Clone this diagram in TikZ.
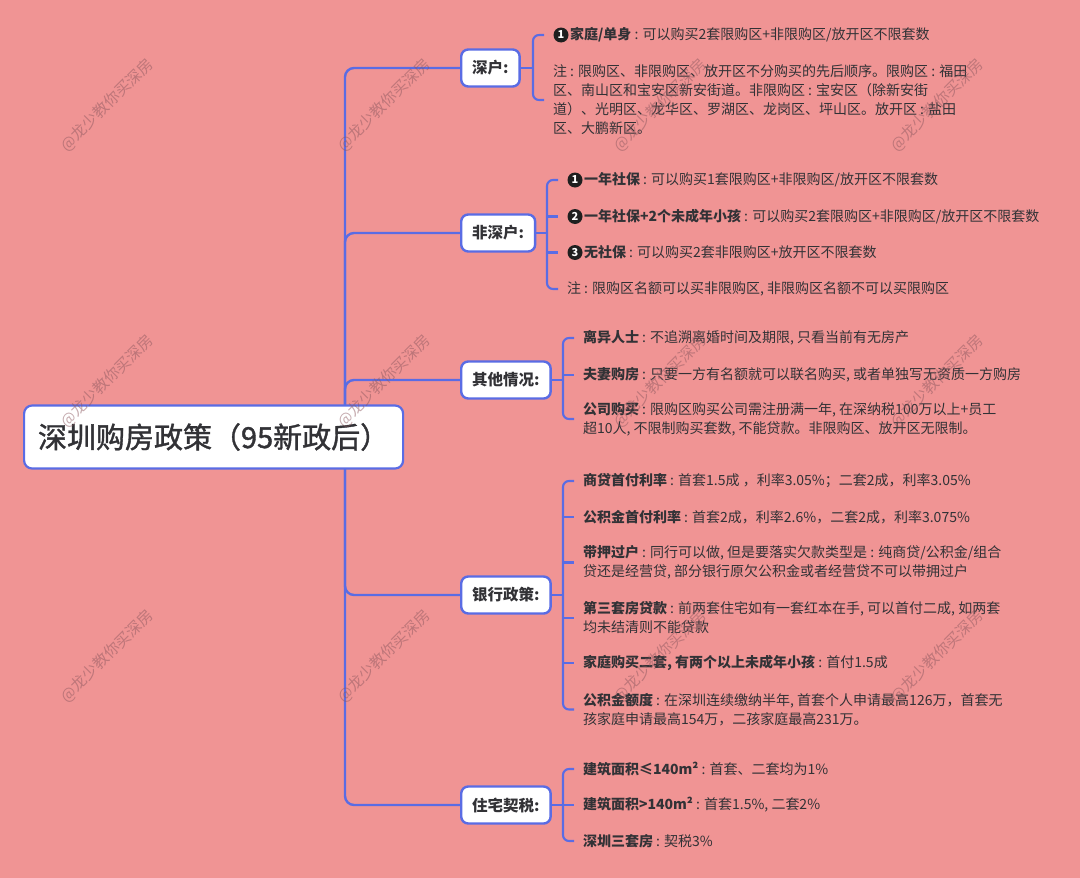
\documentclass[tikz,border=0pt]{standalone}
\usepackage{fontspec}
\setmainfont{Noto Sans CJK SC}
\newfontfamily\rootfont[FakeBold=1.3]{Noto Sans CJK SC}
\definecolor{bgpink}{RGB}{240,148,148}
\definecolor{lineblue}{RGB}{90,108,228}
\definecolor{txt}{RGB}{50,50,54}
\definecolor{wmc}{RGB}{140,88,95}
\tikzset{
  link/.style={draw=lineblue, line width=2.4pt},
  brk/.style={draw=lineblue, line width=2.1pt},
  rootbox/.style={draw=lineblue, line width=2.2pt, fill=white, rounded corners=8pt,
    minimum width=379pt, minimum height=63pt, inner sep=0pt, anchor=west,
    font=\rootfont\fontsize{29}{32}\selectfont, text=txt},
  branch/.style={draw=lineblue, line width=2.4pt, fill=white, rounded corners=7pt,
    minimum height=37pt, inner xsep=11pt, inner ysep=0pt, anchor=west,
    font=\fontsize{15.5}{18}\selectfont\bfseries, text=txt},
  leaf/.style={anchor=west, inner sep=0pt, outer xsep=9pt, outer ysep=0pt, align=left,
    font=\fontsize{14}{19}\selectfont, text=txt},
  numdot/.style={circle, fill=black!88, text=white, inner sep=0pt, minimum size=15pt,
    font=\fontsize{11}{11}\selectfont\bfseries},
  wm/.style={rotate=45, font=\fontsize{15.5}{16}\selectfont, text=wmc, text opacity=0.5, inner sep=0pt},
}
\begin{document}
\begin{tikzpicture}[x=1pt,y=-1pt]
\fill[bgpink] (0,0) rectangle (1080,878);
\useasboundingbox (0,0) rectangle (1080,878);

% trunk and branches
\coordinate (trk) at (345,437);
\node[branch] (b1) at (460,68) {深户:};
\node[branch] (b2) at (460,233) {非深户:};
\node[branch] (b3) at (460,380) {其他情况:};
\node[branch] (b4) at (460,595) {银行政策:};
\node[branch] (b5) at (460,805) {住宅契税:};
\draw[link, rounded corners=9pt] (trk) |- (b1.west);
\draw[link, rounded corners=9pt] (trk) |- (b2.west);
\draw[link, rounded corners=9pt] (trk) |- (b3.west);
\draw[link, rounded corners=9pt] (trk) |- (b4.west);
\draw[link, rounded corners=9pt] (trk) |- (b5.west);
\node[rootbox] (root) at (23,437) {深圳购房政策（95新政后）};

% bracket x positions
\coordinate (br1) at (533,0);
\coordinate (br2) at (547,0);
\coordinate (br3) at (563,0);

% ---- 深户 ----
\node[leaf] (l11) at (544,35) {\hspace{17pt}\textbf{家庭/单身} : 可以购买2套限购区+非限购区/放开区不限套数};
\node[numdot] (n11) at (561,35) {1};
\node[leaf] (l12) at (544,100) {注 : 限购区、非限购区、放开区不分购买的先后顺序。限购区 : 福田\\
区、南山区和宝安区新安街道。非限购区 : 宝安区（除新安街\\
道）、光明区、龙华区、罗湖区、龙岗区、坪山区。放开区 : 盐田\\
区、大鹏新区。};
\draw[brk] (b1.east) -- (b1.east -| br1);
\draw[brk, rounded corners=6pt] (l11.west) -- (l11.west -| br1) -- (l12.west -| br1) -- (l12.west);

% ---- 非深户 ----
\node[leaf] (l21) at (558,180) {\hspace{17pt}\textbf{一年社保} : 可以购买1套限购区+非限购区/放开区不限套数};
\node[numdot] (n21) at (575,180) {1};
\node[leaf] (l22) at (558,216.5) {\hspace{17pt}\textbf{一年社保+2个未成年小孩} : 可以购买2套限购区+非限购区/放开区不限套数};
\node[numdot] (n22) at (575,216.5) {2};
\node[leaf] (l23) at (558,252.5) {\hspace{17pt}\textbf{无社保} : 可以购买2套非限购区+放开区不限套数};
\node[numdot] (n23) at (575,252.5) {3};
\node[leaf] (l24) at (558,289) {注 : 限购区名额可以买非限购区, 非限购区名额不可以买限购区};
\draw[brk] (b2.east) -- (b2.east -| br2);
\draw[brk, rounded corners=6pt] (l21.west) -- (l21.west -| br2) -- (l24.west -| br2) -- (l24.west);
\draw[brk] (l22.west -| br2) -- (l22.west);
\draw[brk] (l23.west -| br2) -- (l23.west);

% ---- 其他情况 ----
\node[leaf] (l31) at (574,338) {\textbf{离异人士} : 不追溯离婚时间及期限, 只看当前有无房产};
\node[leaf] (l32) at (574,375) {\textbf{夫妻购房} : 只要一方有名额就可以联名购买, 或者单独写无资质一方购房};
\node[leaf] (l33) at (574,419) {\textbf{公司购买} : 限购区购买公司需注册满一年, 在深纳税100万以上+员工\\
超10人, 不限制购买套数, 不能贷款。非限购区、放开区无限制。};
\draw[brk] (b3.east) -- (b3.east -| br3);
\draw[brk, rounded corners=6pt] (l31.west) -- (l31.west -| br3) -- (l33.west -| br3) -- (l33.west);
\draw[brk] (l32.west -| br3) -- (l32.west);

% ---- 银行政策 ----
\node[leaf] (l41) at (574,481) {\textbf{商贷首付利率} : 首套1.5成 ，利率3.05\%；二套2成，利率3.05\%};
\node[leaf] (l42) at (574,517) {\textbf{公积金首付利率} : 首套2成，利率2.6\%，二套2成，利率3.075\%};
\node[leaf] (l43) at (574,562.5) {\textbf{带押过户} : 同行可以做, 但是要落实欠款类型是 : 纯商贷/公积金/组合\\
贷还是经营贷, 部分银行原欠公积金或者经营贷不可以带拥过户};
\node[leaf] (l44) at (574,618) {\textbf{第三套房贷款} : 前两套住宅如有一套红本在手, 可以首付二成, 如两套\\
均未结清则不能贷款};
\node[leaf] (l45) at (574,663) {\textbf{家庭购买二套, 有两个以上未成年小孩} : 首付1.5成};
\node[leaf] (l46) at (574,709.5) {\textbf{公积金额度} : 在深圳连续缴纳半年, 首套个人申请最高126万，首套无\\
孩家庭申请最高154万，二孩家庭最高231万。};
\draw[brk] (b4.east) -- (b4.east -| br3);
\draw[brk, rounded corners=6pt] (l41.west) -- (l41.west -| br3) -- (l46.west -| br3) -- (l46.west);
\draw[brk] (l42.west -| br3) -- (l42.west);
\draw[brk] (l43.west -| br3) -- (l43.west);
\draw[brk] (l44.west -| br3) -- (l44.west);
\draw[brk] (l45.west -| br3) -- (l45.west);

% ---- 住宅契税 ----
\node[leaf] (l51) at (574,769) {\textbf{建筑面积≤140m²} : 首套、二套均为1\%};
\node[leaf] (l52) at (574,805) {\textbf{建筑面积>140m²} : 首套1.5\%, 二套2\%};
\node[leaf] (l53) at (574,841) {\textbf{深圳三套房} : 契税3\%};
\draw[brk] (b5.east) -- (b5.east -| br3);
\draw[brk, rounded corners=6pt] (l51.west) -- (l51.west -| br3) -- (l53.west -| br3) -- (l53.west);
\draw[brk] (l52.west -| br3) -- (l52.west);

% ---- watermarks ----
\foreach \wx/\wy [count=\i] in {107/105,384/105,660/105,937/105,107/381,384/381,660/381,937/381,107/656,384/656,660/656,937/656}{
  \node[wm] (wm\i) at (\wx,\wy) {@龙少教你买深房};
}
\end{tikzpicture}
\end{document}
